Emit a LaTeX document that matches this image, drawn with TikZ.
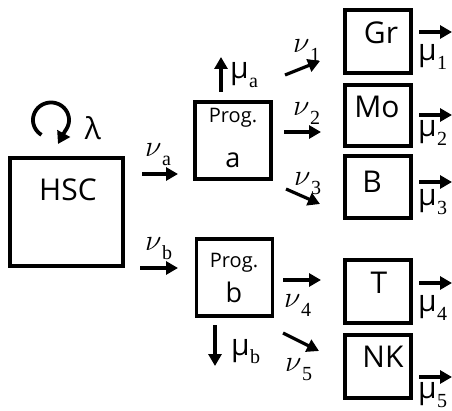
\RequirePackage{fix-cm}
\documentclass[tikz,border=0pt]{standalone}
\usepackage{fontspec}
\setmainfont{Open Sans}
\newfontfamily\grk{Liberation Serif}
\usetikzlibrary{arrows.meta}
\newcommand\nusub[1]{$\nu$\kern0.02em\raisebox{-0.3em}{\fontsize{20}{22}\selectfont\grk #1}}
\newcommand\musub[1]{μ\kern0.01em\raisebox{-0.3em}{\fontsize{20}{22}\selectfont\grk #1}}
\begin{document}
\begin{tikzpicture}[x=1pt,y=-1pt,
  box/.style={draw,line width=3.5pt,minimum width=#1,inner sep=0pt},
  flow/.style={line width=3.2pt,-{Triangle[length=12pt,width=13pt]}},
  lbl/.style={inner sep=0pt,font=\fontsize{30}{32}\selectfont},
  big/.style={inner sep=0pt,font=\fontsize{30}{32}\selectfont},
  prog/.style={inner sep=0pt,font=\fontsize{20}{22}\selectfont},
  letter/.style={inner sep=0pt,font=\fontsize{27}{29}\selectfont}]
\useasboundingbox (0,0) rectangle (452,411);
% boxes
\node[box=113pt,minimum height=108pt] (hsc) at (66.5,212) {};
\node[big] (hsct) at (68,190) {HSC};
\node[box=76pt,minimum height=77pt] (pa) at (233,140.5) {};
\node[prog] (pat) at (233,118) {Prog.};
\node[letter] (pal) at (233,160) {a};
\node[box=76pt,minimum height=77pt] (pb) at (234.5,277.5) {};
\node[prog] (pbt) at (234,263) {Prog.};
\node[letter] (pbl) at (234,292) {b};
\node[box=66pt,minimum height=63pt] (gr) at (378,41.5) {};
\node[big] (grt) at (381,33) {Gr};
\node[box=66pt,minimum height=61pt] (mo) at (378,115.5) {};
\node[big] (mot) at (377,107) {Mo};
\node[box=66pt,minimum height=62pt] (bb) at (378,187) {};
\node[big] (bt) at (372,182) {B};
\node[box=66pt,minimum height=63pt] (tt) at (378,291.5) {};
\node[big] (ttt) at (379,283) {T};
\node[box=66pt,minimum height=63pt] (nk) at (378,366.5) {};
\node[big] (nkt) at (383,357) {NK};
% self-renewal loop
\coordinate (looptip) at (58,144);
\draw[line width=3.8pt,-{Triangle[length=12pt,width=14pt]}]
  plot[domain=238:-38,samples=60,smooth] ({51+18*cos(\x)},{120-17.5*sin(\x)}) -- (looptip);
\node[lbl] (lam) at (93,128) {λ};
% arrows
\coordinate (a1) at (142,174); \coordinate (a2) at (178,174);
\draw[flow] (a1) -- (a2);
\node[lbl,anchor=base west] (nua) at (145,157) {\nusub{a}};
\coordinate (b1) at (140,268); \coordinate (b2) at (178,268);
\draw[flow] (b1) -- (b2);
\node[lbl,anchor=base west] (nub) at (145,251) {\nusub{b}};
\coordinate (ma1) at (221,92); \coordinate (ma2) at (221,57);
\draw[flow] (ma1) -- (ma2);
\node[lbl,anchor=base west] (mua) at (230,79) {\musub{a}};
\coordinate (mb1) at (215,325); \coordinate (mb2) at (215,366);
\draw[flow] (mb1) -- (mb2);
\node[lbl,anchor=base west] (mub) at (231,355) {\musub{b}};
\coordinate (n11) at (285,75); \coordinate (n12) at (320,61);
\draw[flow] (n11) -- (n12);
\node[lbl,anchor=base west] (nu1) at (293,53) {\nusub{1}};
\coordinate (n21) at (284,132); \coordinate (n22) at (321,132);
\draw[flow] (n21) -- (n22);
\node[lbl,anchor=base west] (nu2) at (293,116) {\nusub{2}};
\coordinate (n31) at (286,189); \coordinate (n32) at (320,204);
\draw[flow] (n31) -- (n32);
\node[lbl,anchor=base west] (nu3) at (294,186) {\nusub{3}};
\coordinate (n41) at (283,280); \coordinate (n42) at (321,280);
\draw[flow] (n41) -- (n42);
\node[lbl,anchor=base west] (nu4) at (284,308) {\nusub{4}};
\coordinate (n51) at (283,333); \coordinate (n52) at (319,351);
\draw[flow] (n51) -- (n52);
\node[lbl,anchor=base west] (nu5) at (285,371) {\nusub{5}};
\foreach \i/\y/\ly in {1/32/61,2/115/137,3/182/206,4/283/312,5/377/398}{
  \coordinate (m\i a) at (419,\y); \coordinate (m\i b) at (452,\y);
  \draw[flow] (m\i a) -- (m\i b);
  \node[lbl,anchor=base west] (mu\i) at (418,\ly) {\musub{\i}};
}
\end{tikzpicture}
\end{document}
